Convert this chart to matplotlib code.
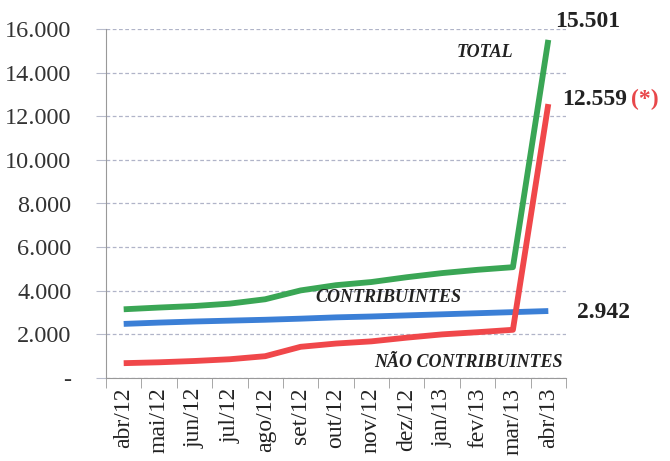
import matplotlib
matplotlib.use('Agg')
import matplotlib.pyplot as plt

months = ['abr/12', 'mai/12', 'jun/12', 'jul/12', 'ago/12', 'set/12', 'out/12',
          'nov/12', 'dez/12', 'jan/13', 'fev/13', 'mar/13', 'abr/13']
total = [3150, 3230, 3300, 3410, 3610, 4015, 4255, 4400, 4620, 4810, 4960, 5080, 15501]
contribuintes = [2480, 2540, 2590, 2630, 2670, 2720, 2780, 2820, 2870, 2920, 2970, 3020, 3070]
nao_contribuintes = [680, 720, 780, 860, 1000, 1430, 1580, 1680, 1850, 2000, 2100, 2210, 12559]
yticks = [0, 2000, 4000, 6000, 8000, 10000, 12000, 14000, 16000]
ylabels = ['-', '2.000', '4.000', '6.000', '8.000', '10.000', '12.000', '14.000', '16.000']

plt.rcParams['font.family'] = ['Liberation Serif', 'DejaVu Serif']

fig = plt.figure(figsize=(6.7, 4.61), dpi=100)
ax = fig.add_axes([106 / 670, 1 - 378 / 461, 460 / 670, 349 / 461])

x = list(range(len(months)))
ax.plot(x, total, color='#3aa655', lw=4.2, solid_capstyle='butt', zorder=3)
ax.plot(x, contribuintes, color='#3b7fd6', lw=4.2, solid_capstyle='butt', zorder=3)
ax.plot(x, nao_contribuintes, color='#f0474a', lw=4.2, solid_capstyle='butt', zorder=4)

ax.set_xlim(-0.5, 12.5)
ax.set_ylim(0, 16000)
ax.set_yticks(yticks)
ax.set_yticklabels(ylabels, fontsize=17.5, color='#333333')
ax.set_xticks(x)
ax.set_xticklabels(months, rotation=90, fontsize=17, color='#222222')
ax.set_xticks([i - 0.5 for i in range(len(months) + 1)], minor=True)
ax.tick_params(axis='x', which='major', length=0, pad=7)
ax.tick_params(axis='x', which='minor', length=7, color='#999999', direction='out')
ax.tick_params(axis='y', length=7, color='#b8bccc', pad=18)

ax.grid(axis='y', color='#b0b4c8', linestyle=(0, (3, 2)), lw=0.9)
ax.set_axisbelow(True)
for s in ['top', 'right']:
    ax.spines[s].set_visible(False)
ax.spines['left'].set_color('#999999')
ax.spines['bottom'].set_color('#999999')

# series labels
ax.text(10.2, 14900, 'TOTAL', fontsize=13, fontstyle='italic', fontweight='bold',
        ha='center', va='center', color='#222222')
ax.text(7.47, 3670, 'CONTRIBUINTES', fontsize=13, fontstyle='italic', fontweight='bold',
        ha='center', va='center', color='#222222')
ax.text(9.75, 730, 'NÃO CONTRIBUINTES', fontsize=13, fontstyle='italic', fontweight='bold',
        ha='center', va='center', color='#222222')

# end values
ax.text(12.18, 16330, '15.501', fontsize=17, fontweight='bold', ha='left', va='center',
        color='#222222', clip_on=False)
ax.text(12.4, 12750, '12.559', fontsize=17, fontweight='bold', ha='left', va='center',
        color='#222222', clip_on=False)
ax.text(14.33, 12750, '(*)', fontsize=17, fontweight='bold', ha='left', va='center',
        color='#e8474a', clip_on=False)
ax.text(12.82, 2980, '2.942', fontsize=17, fontweight='bold', ha='left', va='center',
        color='#222222', clip_on=False)

fig.savefig('out.png', dpi=100)
